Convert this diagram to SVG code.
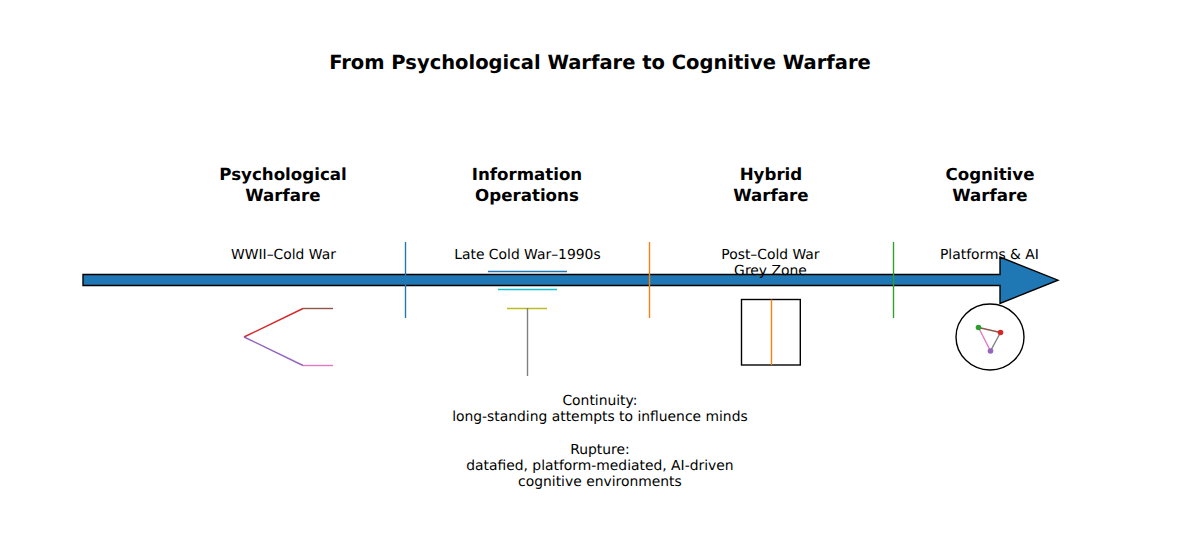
<svg xmlns="http://www.w3.org/2000/svg" width="1200" height="560" viewBox="0 0 1200 560">
<style>
text{font-family:"DejaVu Sans",sans-serif;fill:#000;text-anchor:middle;text-rendering:geometricPrecision;transform:rotate(0.01deg)}
.title{font-size:19.5px;font-weight:bold}
.head{font-size:16.67px;font-weight:bold}
.sub{font-size:13.89px}
.l{fill:none;stroke-width:1.39}
.o{fill:none;stroke:#000;stroke-width:1.39}
</style>
<rect width="1200" height="560" fill="#fff"/>
<text class="title" x="600" y="68.500">From Psychological Warfare to Cognitive Warfare</text>
<g id="timeline-arrow"><polygon points="83,274.500 1000,274.500 1000,257 1058,280.200 1000,303.500 1000,285.500 83,285.500" fill="#1f77b4" stroke="#000" stroke-width="1.39"/></g>
<g id="connectors">
<line class="l" x1="405.500" y1="242" x2="405.500" y2="318" stroke="#1f77b4"/>
<line class="l" x1="649.500" y1="242" x2="649.500" y2="318" stroke="#ff7f0e"/>
<line class="l" x1="893.500" y1="242" x2="893.500" y2="318" stroke="#2ca02c"/>
</g>
<g id="psychological-warfare">
<text class="head" x="283" y="179.500">Psychological</text>
<text class="head" x="283" y="200.500">Warfare</text>
<text class="sub" x="283.500" y="258.500">WWII–Cold War</text>
<line class="l" x1="244" y1="337" x2="303" y2="308.500" stroke="#d62728"/>
<line class="l" x1="303" y1="308.500" x2="333" y2="308.500" stroke="#8c564b"/>
<line class="l" x1="244" y1="337" x2="303" y2="365.500" stroke="#9467bd"/>
<line class="l" x1="303" y1="365.500" x2="333" y2="365.500" stroke="#e377c2"/>
</g>
<g id="information-operations">
<text class="head" x="527" y="179.500">Information</text>
<text class="head" x="527" y="200.500">Operations</text>
<text class="sub" x="527.500" y="258.500">Late Cold War–1990s</text>
<line class="l" x1="488" y1="271.500" x2="567" y2="271.500" stroke="#1f77b4"/>
<line class="l" x1="498" y1="289.500" x2="557" y2="289.500" stroke="#17becf"/>
<line class="l" x1="507" y1="308.500" x2="547" y2="308.500" stroke="#bcbd22"/>
<line class="l" x1="527.500" y1="308" x2="527.500" y2="376" stroke="#7f7f7f"/>
</g>
<g id="hybrid-warfare">
<text class="head" x="771" y="179.500">Hybrid</text>
<text class="head" x="771" y="200.500">Warfare</text>
<text class="sub" x="770.500" y="258.500">Post–Cold War</text>
<text class="sub" x="770.500" y="274.500">Grey Zone</text>
<rect class="o" x="741.500" y="299.500" width="58.800" height="65.500"/>
<line class="l" x1="771.500" y1="299.500" x2="771.500" y2="365" stroke="#ff7f0e"/>
</g>
<g id="cognitive-warfare">
<text class="head" x="990" y="179.500">Cognitive</text>
<text class="head" x="990" y="200.500">Warfare</text>
<text class="sub" x="989.500" y="258.500">Platforms &amp; AI</text>
<ellipse class="o" cx="990" cy="337" rx="34" ry="33"/>
<line class="l" x1="978.500" y1="327.500" x2="1000.500" y2="332.500" stroke="#8c564b"/>
<line class="l" x1="978.500" y1="327.500" x2="990.500" y2="351" stroke="#e377c2"/>
<line class="l" x1="1000.500" y1="332.500" x2="990.500" y2="351" stroke="#7f7f7f"/>
<circle cx="978.500" cy="327.500" r="2.800" fill="#2ca02c"/>
<circle cx="1000.500" cy="332.500" r="2.800" fill="#d62728"/>
<circle cx="990.500" cy="351" r="2.800" fill="#9467bd"/>
</g>
<g id="summary">
<text class="sub" x="600" y="404.500">Continuity:</text>
<text class="sub" x="600" y="421">long-standing attempts to influence minds</text>
<text class="sub" x="600" y="453.500">Rupture:</text>
<text class="sub" x="600" y="469.500">datafied, platform-mediated, AI-driven</text>
<text class="sub" x="600" y="485.500">cognitive environments</text>
</g>
</svg>
